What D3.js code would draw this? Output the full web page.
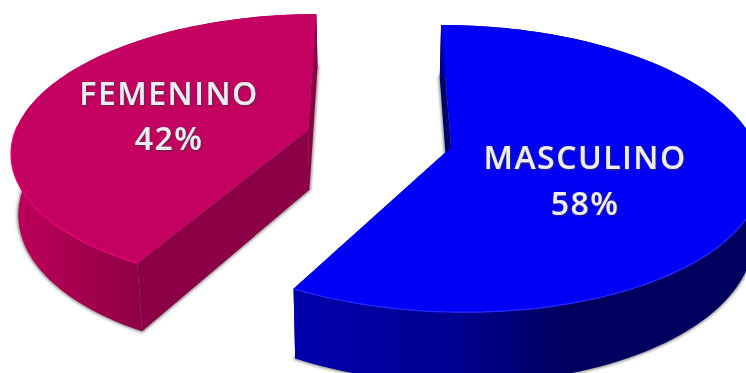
<!DOCTYPE html>
<html>
<head>
<meta charset="utf-8">
<script src="https://cdn.jsdelivr.net/npm/d3@7"></script>
<style>
  html, body { margin: 0; padding: 0; background: #fff; overflow: hidden; }
  svg { display: block; }
  text { font-family: "Open Sans", sans-serif; font-weight: 600; text-anchor: middle; }
</style>
</head>
<body>
<svg id="chart" width="746" height="373"></svg>
<script>
// Gender split of the group
const categories = ["FEMENINO", "MASCULINO"];
const shares = [42, 58];
const topColors = ["#c40060", "#0000f5"];
const rimColors = ["#f0007c", "#2a2aff"];
const edgeColors = ["#8c0045", "#00006a"];
const wallStops = [
  [["0%", "#bd005c"], ["45%", "#a8004f"], ["100%", "#8f0045"]],
  [["0%", "#0000ac"], ["45%", "#000090"], ["75%", "#00005e"], ["100%", "#00005e"]]
];
const labelAnchors = [[169, 93, 138], [585, 157, 203]];
const explodeBy = [0.235, 0.27];
const stretchX = [1.01, 1.035];
const stretchY = [1, 1.02];

const W = 746, H = 373;
const svg = d3.select("#chart");
const defs = svg.append("defs");

// Tilted-disc projection: plane x/y maps to the screen with a vanishing point above the pie
const persp = 0.145, cx = 374, cy = 138;
const spreadX = d3.scaleLinear().domain([-1, 1]).range([-292, 292]);
const spreadY = d3.scaleLinear().domain([-1, 1]).range([135, -135]);
const depth = 60, shrink = 0.98;

function project(px, py, lower) {
  const w = 1 + persp * py;
  const x = spreadX(px) / w, y = spreadY(py) / w;
  return lower
    ? [cx + x * shrink, cy + y + depth / w]
    : [cx + x, cy + y];
}

const slices = d3.pie().sort(null)
  .startAngle(-0.42 * 2 * Math.PI)
  .endAngle(1.58 * 2 * Math.PI)(shares);

const outline = d3.line().curve(d3.curveLinear);

slices.forEach((s, i) => {
  const g = defs.append("linearGradient")
    .attr("id", "wall" + i)
    .attr("gradientUnits", "userSpaceOnUse")
    .attr("x1", i ? 296 : 15).attr("x2", i ? 660 : 140)
    .attr("y1", 0).attr("y2", 0);
  wallStops[i].forEach(st => g.append("stop").attr("offset", st[0]).attr("stop-color", st[1]));
});

const blur = defs.append("filter").attr("id", "soft")
  .attr("x", "-10%").attr("y", "-10%").attr("width", "120%").attr("height", "120%");
blur.append("feGaussianBlur").attr("stdDeviation", 1.8);

const glow = defs.append("filter").attr("id", "labelShadow")
  .attr("x", "-10%").attr("y", "-20%").attr("width", "120%").attr("height", "140%");
glow.append("feDropShadow").attr("dx", 0.6).attr("dy", 0.8)
  .attr("stdDeviation", 0.9).attr("flood-color", "#3a3a3a").attr("flood-opacity", 0.9);

slices.forEach((s, i) => {
  const mid = (s.startAngle + s.endAngle) / 2;
  const ox = explodeBy[i] * Math.sin(mid), oy = explodeBy[i] * Math.cos(mid);
  const angles = d3.range(0, 121).map(k => s.startAngle + (s.endAngle - s.startAngle) * k / 120);
  const plane = a => [ox + stretchX[i] * Math.sin(a), oy + stretchY[i] * Math.cos(a)];
  const arcTop = angles.map(a => project(...plane(a), false));
  const arcLow = angles.map(a => project(...plane(a), true));
  const apexTop = project(ox, oy, false), apexLow = project(ox, oy, true);

  const piece = svg.append("g").attr("class", "slice");

  // soft shadow under the lower disc
  piece.append("path")
    .attr("d", outline([apexLow, ...arcLow]) + "Z")
    .attr("fill", "#8a8a8a").attr("stroke", "#8a8a8a").attr("stroke-width", 2.5)
    .attr("filter", "url(#soft)");

  // cut faces running from the apex to each end of the arc
  [0, 120].forEach(k => {
    piece.append("path")
      .attr("d", outline([apexTop, arcTop[k], arcLow[k], apexLow]) + "Z")
      .attr("fill", edgeColors[i]);
  });

  // curved outer wall
  piece.append("path")
    .attr("d", outline([...arcTop, ...arcLow.slice().reverse()]) + "Z")
    .attr("fill", `url(#wall${i})`);

  // top face
  piece.append("path")
    .attr("d", outline([apexTop, ...arcTop]) + "Z")
    .attr("fill", topColors[i]);

  // thin highlight along the near rim
  const near = angles.map(a => plane(a)).filter(p => p[1] - oy < 0.05).map(p => project(p[0], p[1], false));
  piece.append("path")
    .attr("d", outline(near))
    .attr("fill", "none").attr("stroke", rimColors[i]).attr("stroke-width", 1.2);

  // label
  const [lx, y1, y2] = labelAnchors[i];
  const label = piece.append("g").attr("filter", "url(#labelShadow)")
    .attr("fill", "#eeedf4").attr("font-size", 32).attr("letter-spacing", 1.5);
  label.append("text").attr("x", lx).attr("y", y1 + 12).text(categories[i]);
  label.append("text").attr("x", lx).attr("y", y2 + 12).text(shares[i] + "%");
});
</script>
</body>
</html>
